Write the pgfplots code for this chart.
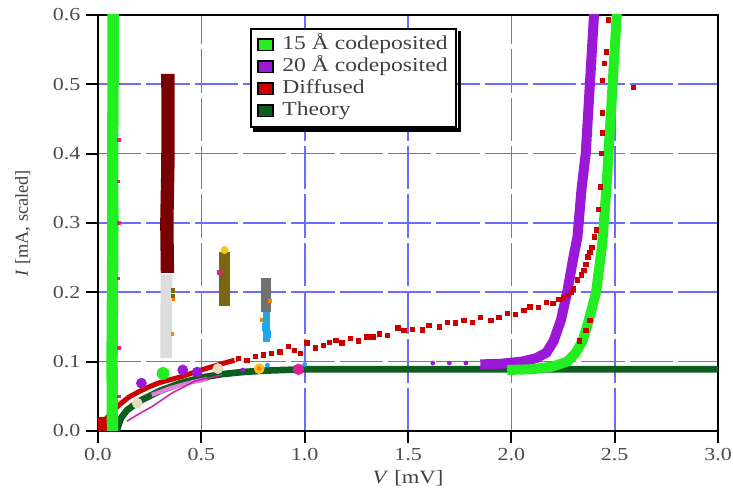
\documentclass[border=0pt]{standalone}
\usepackage{fontspec}
\setmainfont[FakeStretch=1.2]{Liberation Serif}
\newfontfamily\plainfont{Liberation Serif}
\usepackage{pgfplots}
\pgfplotsset{compat=1.18}
\definecolor{c15}{HTML}{22EE22}
\definecolor{c20}{HTML}{9B19D6}
\definecolor{cdif}{HTML}{CC0000}
\definecolor{cth}{HTML}{0B5E1E}
\definecolor{cmar}{HTML}{780000}
\definecolor{clg}{HTML}{DDDDDD}
\definecolor{col}{HTML}{7A6510}
\definecolor{cst}{HTML}{707070}
\definecolor{ccy}{HTML}{1EA8E8}
\definecolor{cgrid}{HTML}{6B6BFF}
\definecolor{corch}{HTML}{E07ED8}
\definecolor{cmag}{HTML}{E0209A}
\definecolor{cyel}{HTML}{F2C81E}
\definecolor{cbeige}{HTML}{E8DCC0}
\begin{document}
\begin{tikzpicture}
\begin{axis}[
  name=ax,
  scale only axis,
  width=372pt, height=249.6pt,
  xmin=0, xmax=3, ymin=0, ymax=0.6,
  xtick={0,0.5,1,1.5,2,2.5,3},
  ytick={0,0.1,0.2,0.3,0.4,0.5,0.6},
  xtick pos=lower, ytick pos=left,
  tick align=outside,
  major tick length=7pt,
  every tick/.style={black, line width=1.1pt},
  axis line style={line width=1.2pt},
  grid=major,
  major grid style={cgrid, line width=1pt, dash pattern=on 26pt off 3pt},
  tick label style={font=\fontsize{11}{12}\selectfont, text=black!70},
  /pgf/number format/assume math mode=true,
  /pgf/number format/.cd, fixed, fixed zerofill, precision=1, /pgfplots/.cd,
  xlabel={\textit{V} [mV]},
  ylabel={\textit{I} [mA, scaled]},
  every axis x label/.style={at={(axis description cs:0.5,0)}, anchor=center, yshift=-28.5pt, font=\fontsize{11.3}{12}\selectfont, text=black!75},
  every axis y label/.style={at={(axis description cs:0,0.5)}, anchor=center, xshift=-45pt, rotate=90, font=\fontsize{11}{12}\plainfont, text=black!75},
  legend image code/.code={\fill[#1] (0pt,-3.5pt) rectangle (9pt,3.5pt);},
  legend style={name=leg, at={(rel axis cs:0.245,0.969)}, anchor=north west,
    draw=black, line width=1pt, fill=white,
    font=\fontsize{11.8}{13}\selectfont, text=black!75,
    nodes={inner sep=1pt, text height=8.6pt, text depth=2.6pt},
    row sep=0pt, column sep=4pt, inner xsep=4pt, inner ysep=3pt},
  legend cell align=left,
]
% ---- light grey, maroon, olive, steel, cyan vertical bands
\addplot[forget plot, clg, line width=7pt, line cap=butt] coordinates {(0.330,0.105) (0.330,0.160) (0.332,0.226)};
\addplot[forget plot, cmar, line width=8pt, line cap=butt] coordinates {(0.336,0.228) (0.333,0.300) (0.338,0.380) (0.339,0.450) (0.338,0.515)};
\addplot[forget plot, col, line width=7pt, line cap=butt] coordinates {(0.612,0.180) (0.612,0.258)};
\addplot[forget plot, only marks, mark=*, mark size=2.2pt, cyel, mark options={draw=none}] coordinates {(0.612,0.261)};
\addplot[forget plot, only marks, mark=square*, mark size=1pt, col] coordinates {(0.363,0.203) (0.363,0.195)};
\addplot[forget plot, cst, line width=6pt, line cap=butt] coordinates {(0.815,0.172) (0.815,0.220)};
\addplot[forget plot, ccy, line width=4pt, line cap=butt] coordinates {(0.815,0.128) (0.815,0.172)};
\addplot[forget plot, only marks, mark=square*, mark size=2.2pt, ccy, mark options={draw=none}] coordinates {(0.812,0.150) (0.818,0.140)};
\addplot[forget plot, only marks, mark=square*, mark size=0.8pt, orange] coordinates {(0.83,0.188) (0.79,0.160) (0.365,0.190) (0.36,0.140)};
\addplot[forget plot, only marks, mark=square*, mark size=1pt, cmag] coordinates {(0.585,0.229)};
% ---- diffused red along the knee
\addplot[forget plot, cdif, line width=3pt] coordinates {(0.0,0.0) (0.04,0.018) (0.10,0.037) (0.15,0.049) (0.20,0.057) (0.25,0.064) (0.30,0.070) (0.40,0.078) (0.50,0.088) (0.60,0.097) (0.66,0.102)};
\addplot[forget plot, cdif, line width=6pt, line cap=butt] coordinates {(0.02,0.0) (0.02,0.02)};
% ---- theory
\addplot[forget plot, cth, line width=4pt] coordinates {(0.09,0.0) (0.11,0.018) (0.14,0.030) (0.20,0.043) (0.30,0.058) (0.40,0.069) (0.50,0.077) (0.60,0.082) (0.70,0.085) (0.80,0.087) (0.90,0.088) (1.0,0.089) (3.0,0.089)};
% ---- orchid / magenta knee traces
\addplot[forget plot, corch, line width=2.5pt] coordinates {(0.26,0.052) (0.35,0.062) (0.45,0.070) (0.53,0.075)};
\addplot[forget plot, cmag!70!c20, line width=0.9pt] coordinates {(0.14,0.014) (0.20,0.025) (0.26,0.035) (0.36,0.055) (0.47,0.072) (0.60,0.081)};
\addplot[forget plot, only marks, mark=*, mark size=3pt, c20, mark options={draw=none}] coordinates {(0.21,0.069) (0.41,0.088) (0.48,0.085)};
\addplot[forget plot, only marks, mark=*, mark size=1.2pt, c20, mark options={draw=none}] coordinates {(0.70,0.088) (1.62,0.098) (1.70,0.098) (1.78,0.098)};
\addplot[forget plot, only marks, mark=*, mark size=3pt, cbeige, mark options={draw=none}] coordinates {(0.19,0.040) (0.58,0.090)};
\addplot[forget plot, only marks, mark=*, mark size=3pt, cyel, mark options={draw=none}] coordinates {(0.78,0.090)};
\addplot[forget plot, only marks, mark=*, mark size=1.2pt, orange, mark options={draw=none}] coordinates {(0.78,0.090)};
\addplot[forget plot, only marks, mark=*, mark size=3.2pt, cmag, mark options={draw=none}] coordinates {(0.97,0.089)};
\addplot[forget plot, only marks, mark=*, mark size=1.2pt, ccy, mark options={draw=none}] coordinates {(1.0,0.096) (0.82,0.095)};
\addplot[forget plot, only marks, mark=*, mark size=3.6pt, c15, mark options={draw=none}] coordinates {(0.315,0.083)};
% ---- 15 A codeposited (left steep band)
\addplot[forget plot, c15, line width=6.8pt, line cap=butt] coordinates {(0.070,0.0) (0.068,0.100) (0.070,0.200) (0.072,0.300) (0.071,0.400) (0.073,0.500) (0.073,0.610)};
\addplot[forget plot, only marks, mark=square*, mark size=0.8pt, cmag] coordinates {(0.100,0.05) (0.100,0.12) (0.098,0.22) (0.101,0.30) (0.099,0.36) (0.100,0.42)};
% ---- 20 A codeposited
\addplot[forget plot, c20, line width=6pt] coordinates {(1.85,0.096) (1.95,0.097) (2.05,0.100) (2.12,0.105) (2.17,0.113) (2.205,0.130) (2.24,0.160) (2.27,0.200) (2.30,0.250) (2.32,0.280) (2.34,0.350) (2.36,0.400) (2.38,0.500) (2.40,0.600) (2.405,0.620)};
% ---- diffused scatter
\addplot[forget plot, only marks, mark=square*, mark size=1.3pt, cdif, mark options={draw=none}] coordinates {
(0.68,0.105) (0.72,0.102) (0.76,0.108) (0.80,0.110) (0.84,0.112) (0.88,0.114) (0.92,0.122) (0.95,0.116)
(0.98,0.112) (1.01,0.127) (1.05,0.120) (1.09,0.124) (1.12,0.128) (1.15,0.131) (1.18,0.127) (1.22,0.134)
(1.26,0.130) (1.30,0.136) (1.33,0.136) (1.36,0.140) (1.40,0.138) (1.45,0.149) (1.48,0.145) (1.52,0.147)
(1.57,0.146) (1.60,0.152) (1.65,0.150) (1.69,0.157) (1.73,0.156) (1.77,0.160) (1.81,0.157) (1.85,0.164)
(1.90,0.160) (1.94,0.164) (1.98,0.170) (2.02,0.168) (2.06,0.174) (2.09,0.179) (2.13,0.178) (2.17,0.186)
(2.20,0.184) (2.23,0.190) (2.25,0.192) (2.27,0.196) (2.29,0.200) (2.30,0.205) (2.32,0.218) (2.34,0.225)
(2.35,0.232) (2.36,0.240) (2.37,0.251) (2.38,0.258) (2.39,0.265) (2.40,0.280) (2.41,0.290) (2.42,0.320)
(2.43,0.352) (2.435,0.400) (2.44,0.430) (2.44,0.459) (2.44,0.506) (2.45,0.530) (2.46,0.547) (2.47,0.593)
(2.59,0.496) (2.33,0.130) (2.38,0.160) (2.36,0.145)};
% ---- 15 A codeposited (right curve)
\addplot[forget plot, c15, line width=6pt] coordinates {(1.98,0.088) (2.10,0.089) (2.20,0.093) (2.27,0.100) (2.31,0.112) (2.345,0.130) (2.375,0.160) (2.41,0.200) (2.44,0.270) (2.46,0.350) (2.47,0.400) (2.49,0.500) (2.51,0.600) (2.515,0.620)};
% ---- legend
\addlegendimage{fill=c15}
\addlegendentry{15 Å codeposited}
\addlegendimage{fill=c20}
\addlegendentry{20 Å codeposited}
\addlegendimage{fill=cdif}
\addlegendentry{Diffused}
\addlegendimage{fill=cth}
\addlegendentry{Theory}
\end{axis}
\fill[black] ([xshift=0.5pt,yshift=-2pt]leg.north east) rectangle ([xshift=2.5pt,yshift=-2.5pt]leg.south east);
\fill[black] ([xshift=2pt,yshift=-0.5pt]leg.south west) rectangle ([xshift=2.5pt,yshift=-2.5pt]leg.south east);
\pgfresetboundingbox
\path ([shift={(-58.8pt,-34.8pt)}]ax.south west) rectangle ([shift={(9pt,9pt)}]ax.north east);
\end{tikzpicture}
\end{document}
